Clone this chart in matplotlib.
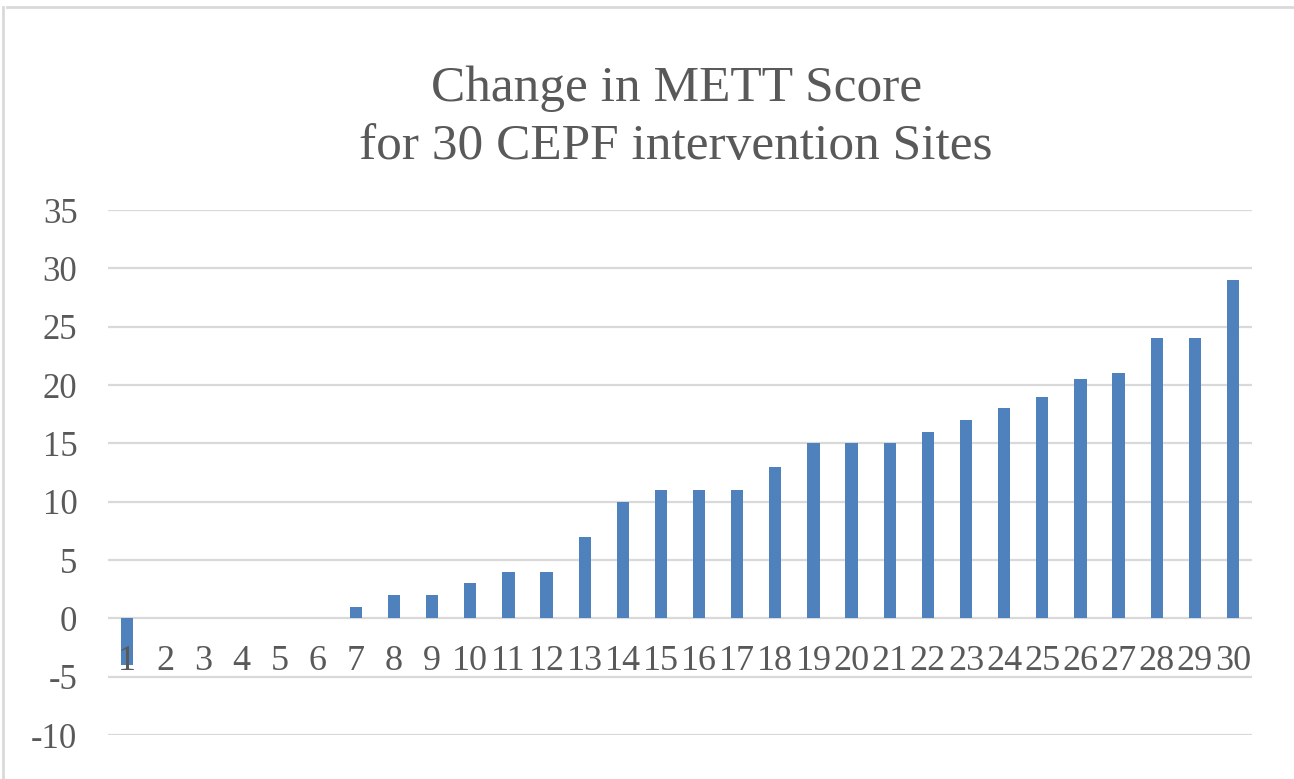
import numpy as np
import matplotlib
matplotlib.use('Agg')
import matplotlib.pyplot as plt
from matplotlib.lines import Line2D

# site numbers and METT score change per site
sites = [str(i) for i in range(1, 31)]
change = [-4, 0, 0, 0, 0, 0, 1, 2, 2, 3, 4, 4, 7, 10, 11, 11, 11, 13,
          15, 15, 15, 16, 17, 18, 19, 20.5, 21, 24, 24, 29]
yticks = [-10, -5, 0, 5, 10, 15, 20, 25, 30, 35]

title = 'Change in METT Score\nfor 30 CEPF intervention Sites'

grey_text = '#595959'
grid_col = '#D9D9D9'
bar_col = '#4F81BD'

plt.rcParams['font.family'] = ['Liberation Serif', 'DejaVu Serif']

fig = plt.figure(figsize=(12.94, 7.79), dpi=100)
ax = fig.add_axes([108 / 1294, 1 - 735 / 779, 1144 / 1294, (735 - 210) / 779])

x = np.arange(len(sites))
# gridlines drawn by hand so the tick labels can sit on top of the bars
for v in yticks:
    ax.axhline(v, color=grid_col, linewidth=1.6, zorder=0.5)
ax.bar(x, change, width=0.32, color=bar_col, zorder=2)

ax.set_xlim(-0.5, len(sites) - 0.5)
ax.set_ylim(-10, 35)
ax.set_yticks(yticks)
ax.set_yticklabels([str(v) for v in yticks])
ax.set_axisbelow(False)

# category labels sit next to the zero line, like Excel does
ax.spines['bottom'].set_position(('data', 0))
for s in ['top', 'right', 'left', 'bottom']:
    ax.spines[s].set_visible(False)
ax.set_xticks(x)
ax.set_xticklabels(sites)
ax.tick_params(axis='x', length=0, pad=19, labelsize=26, labelcolor=grey_text)
ax.tick_params(axis='y', length=0, pad=22, labelsize=25, labelcolor=grey_text)

fig.text(0.5225, 1 - 66 / 779, title, ha='center', va='top', fontsize=37,
         color=grey_text, linespacing=1.3)

# light chart-area border on top and left
fig.add_artist(Line2D([7 / 1294, 1], [1 - 7 / 779, 1 - 7 / 779],
                      color='#D9D9D9', linewidth=2, transform=fig.transFigure))
fig.add_artist(Line2D([3 / 1294, 3 / 1294], [0, 1 - 7 / 779],
                      color='#D9D9D9', linewidth=2, transform=fig.transFigure))

fig.savefig('out.png', dpi=100)
